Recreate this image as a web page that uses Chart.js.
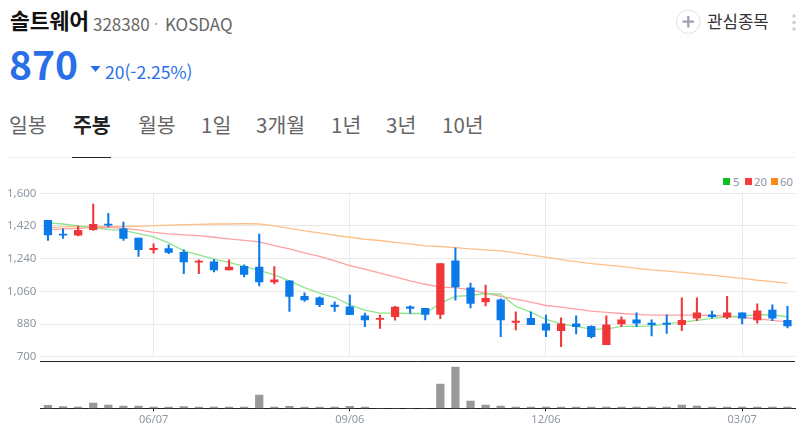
<!DOCTYPE html>
<html lang="ko">
<head>
<meta charset="utf-8">
<script src="https://cdn.jsdelivr.net/npm/chart.js@4"></script>
<style>
html,body{margin:0;padding:0;background:#fff;width:796px;height:436px;overflow:hidden;font-family:"Noto Sans CJK KR","Noto Sans",sans-serif}
.t{position:absolute;white-space:nowrap;line-height:1}
canvas{position:absolute;left:0}
#priceChart{top:170px}
#volChart{top:355px}
.tab{font-size:20.5px;color:#666;top:114px}
.lg{position:absolute;top:178px;width:7px;height:7px}
.lt{position:absolute;top:175px;font:11.3px/14px "Noto Sans",sans-serif;color:#8f96a3}
</style>
</head>
<body>
<span class="t" style="left:10px;top:9px;font-size:21.5px;font-weight:700;color:#111">솔트웨어</span>
<span class="t" style="left:93px;top:15px;font-size:17px;color:#666">328380</span>
<span class="t" style="left:154px;top:15px;font-size:16px;color:#aaa">·</span>
<span class="t" style="left:165px;top:15px;font-size:17px;color:#666">KOSDAQ</span>
<span class="t" style="left:9px;top:44px;font-size:39px;font-weight:700;color:#2a6fe8">870</span>
<svg style="position:absolute;left:90px;top:66px" width="11" height="6"><path d="M0.5 0H10.5L5.5 6Z" fill="#2a6fe8"/></svg>
<span class="t" style="left:105px;top:63px;font-size:17.5px;color:#2a6fe8">20(-2.25%)</span>
<span class="t tab" style="left:9px">일봉</span>
<span class="t tab" style="left:73px;font-weight:700;color:#222">주봉</span>
<span class="t tab" style="left:138px">월봉</span>
<span class="t tab" style="left:201px">1일</span>
<span class="t tab" style="left:256px">3개월</span>
<span class="t tab" style="left:331px">1년</span>
<span class="t tab" style="left:386px">3년</span>
<span class="t tab" style="left:442px">10년</span>
<div style="position:absolute;left:8px;top:157px;width:788px;height:1px;background:#f0f0f0"></div>
<div style="position:absolute;left:72px;top:157px;width:39px;height:1px;background:#222"></div>
<svg style="position:absolute;left:676px;top:9px" width="25" height="25"><circle cx="12.3" cy="12.7" r="11.8" fill="none" stroke="#dfe1e6" stroke-width="1"/><path d="M6.5 12.7H18M12.3 7V18.5" stroke="#9aa2af" stroke-width="2.2"/></svg>
<span class="t" style="left:707px;top:13px;font-size:16.8px;color:#333">관심종목</span>
<svg style="position:absolute;left:790px;top:13px" width="6" height="20"><circle cx="4" cy="3" r="1.7" fill="#c9ccd3"/><circle cx="4" cy="9.5" r="1.7" fill="#c9ccd3"/><circle cx="4" cy="16" r="1.7" fill="#c9ccd3"/></svg>
<span class="lg" style="left:723px;background:#10bd22"></span><span class="lt" style="left:733px">5</span>
<span class="lg" style="left:745px;background:#f93a3e"></span><span class="lt" style="left:754px">20</span>
<span class="lg" style="left:771px;background:#fb8a1c"></span><span class="lt" style="left:780px">60</span>
<canvas id="priceChart" width="796" height="200"></canvas>
<canvas id="volChart" width="796" height="81"></canvas>
<script>
const categories=["04/19","04/26","05/03","05/10","05/17","05/24","05/31","06/07","06/14","06/21","06/28","07/05","07/12","07/19","07/26","08/02","08/09","08/16","08/23","08/30","09/06","09/13","09/20","09/27","10/04","10/11","10/18","10/25","11/01","11/08","11/15","11/22","11/29","12/06","12/13","12/20","12/27","01/03","01/10","01/17","01/24","01/31","02/07","02/14","02/21","02/28","03/07","03/14","03/21","03/28"];
const labelledWeeks=["06/07","09/06","12/06","03/07"];
const opens=[1451,1371,1369,1400,1429,1404,1354,1290,1296,1275,1220,1222,1178,1198,1193,1112,1118,1032,1024,984,975,925,905,920,975,966,933,1228,1079,1002,1013,889,912,881,843,881,867,766,881,903,885,885,876,912,931,918,942,903,957,901];
const closes=[1371,1369,1396,1429,1424,1352,1290,1296,1274,1222,1226,1178,1193,1153,1112,1123,1032,1013,986,975,931,903,911,973,966,933,1213,1085,993,1021,903,894,876,846,881,865,810,876,903,885,876,878,901,942,920,942,912,953,912,870];
const highs=[1451,1404,1420,1541,1490,1442,1354,1321,1316,1288,1233,1235,1233,1206,1376,1197,1118,1052,1030,1002,1039,940,929,978,980,966,1213,1299,1105,1094,1019,947,947,929,914,925,870,925,920,942,903,931,1024,1024,951,1033,942,991,986,977];
const lows=[1340,1351,1365,1395,1415,1341,1252,1270,1268,1158,1158,1167,1178,1140,1090,1101,949,1004,975,949,931,865,856,901,938,903,909,1011,969,980,810,848,876,810,755,826,804,766,865,865,815,828,843,898,912,909,881,885,899,859];
const ma5=[1437,1431,1420,1411,1400,1396,1378,1360,1327,1283,1261,1237,1219,1197,1176,1151,1118,1081,1050,1026,986,956,940,940,938,938,995,1032,1037,1048,1044,977,945,905,881,867,852,852,867,867,870,881,890,900,911,920,923,931,931,920];
const ma20=[1398,1404,1407,1411,1413,1407,1398,1385,1376,1371,1367,1358,1349,1341,1332,1312,1294,1272,1252,1228,1202,1182,1160,1140,1118,1099,1083,1081,1068,1050,1032,1017,1000,982,973,962,951,944,938,933,929,929,929,929,927,923,916,909,900,892];
const ma60=[1411,1415,1417,1417,1417,1417,1418,1422,1424,1428,1429,1431,1431,1433,1431,1420,1407,1393,1382,1369,1358,1347,1340,1330,1321,1310,1307,1301,1294,1288,1283,1272,1259,1248,1235,1224,1213,1204,1197,1187,1178,1171,1164,1156,1149,1140,1131,1121,1114,1105];
const volumes=[150,85,65,265,165,115,115,65,65,85,65,65,65,65,665,65,100,65,65,65,100,65,0,0,0,0,1215,2065,365,165,115,65,65,65,65,65,65,65,65,65,65,65,165,115,65,65,65,65,65,65];
const yTicks=[700,880,1060,1240,1420,1600];

const RED="#f03639",BLUE="#0b7ae8";
const candleColors=opens.map((o,i)=>closes[i]>=o?RED:BLUE);
const labelFont={family:'"Noto Sans","Noto Sans CJK KR",sans-serif',size:11.5};
const keepLabelled=s=>{s.ticks=s.ticks.filter(t=>labelledWeeks.includes(categories[t.value]));};
const fixW=s=>{s.width=40.4;};
const maLine=(label,data,color)=>({type:"line",label,data,borderColor:color,borderWidth:1.3,pointRadius:0,tension:0,order:3,yAxisID:"y"});

new Chart(document.getElementById("priceChart"),{
  type:"bar",
  data:{labels:categories,datasets:[
    {label:"봉",data:opens.map((o,i)=>[o,closes[i]]),backgroundColor:candleColors,barThickness:7.6,minBarLength:1.2,grouped:false,order:1},
    {label:"꼬리",data:lows.map((l,i)=>[l,highs[i]]),backgroundColor:candleColors,barThickness:1.4,grouped:false,order:2},
    maLine("5",ma5,"#8fe58c"),
    maLine("20",ma20,"#ffa0a2"),
    maLine("60",ma60,"#fcc08a")
  ]},
  options:{
    responsive:false,animation:false,events:[],
    layout:{autoPadding:false,padding:{top:23.3,bottom:13.3,right:1,left:0}},
    plugins:{tooltip:{enabled:false},legend:{display:false}},
    scales:{
      x:{offset:true,afterBuildTicks:keepLabelled,border:{display:false},
         grid:{offset:false,color:"#ececec",lineWidth:1,drawTicks:false},
         ticks:{display:false,autoSkip:false}},
      y:{min:700,max:1600,afterBuildTicks:s=>{s.ticks=yTicks.map(value=>({value}));},afterFit:fixW,border:{display:false},
         grid:{color:"#e8e8e8",lineWidth:1,drawTicks:false},
         ticks:{padding:4,color:"#8f96a3",font:labelFont,callback:v=>v.toLocaleString("en-US")}}
    }
  }
});

const volTop=2350;
new Chart(document.getElementById("volChart"),{
  type:"bar",
  data:{labels:categories,datasets:[{label:"거래량",data:volumes,backgroundColor:"#999999",barThickness:7.6}]},
  options:{
    responsive:false,animation:false,events:[],
    layout:{autoPadding:false,padding:{top:6.3,right:1,left:0,bottom:0}},
    plugins:{tooltip:{enabled:false},legend:{display:false}},
    scales:{
      x:{offset:true,afterBuildTicks:keepLabelled,afterFit:s=>{s.height=27.7;},
         border:{display:true,color:"#222",width:1},
         grid:{offset:false,drawOnChartArea:false,drawTicks:true,tickLength:3,tickColor:"#222"},
         ticks:{autoSkip:false,maxRotation:0,padding:2,color:"#8f96a3",font:{family:labelFont.family,size:11}}},
      y:{min:0,max:volTop,afterBuildTicks:s=>{s.ticks=[{value:volTop}];},afterFit:fixW,border:{display:false},
         grid:{color:"#222",lineWidth:1,drawTicks:false},ticks:{display:false}}
    }
  }
});
</script>
</body>
</html>
